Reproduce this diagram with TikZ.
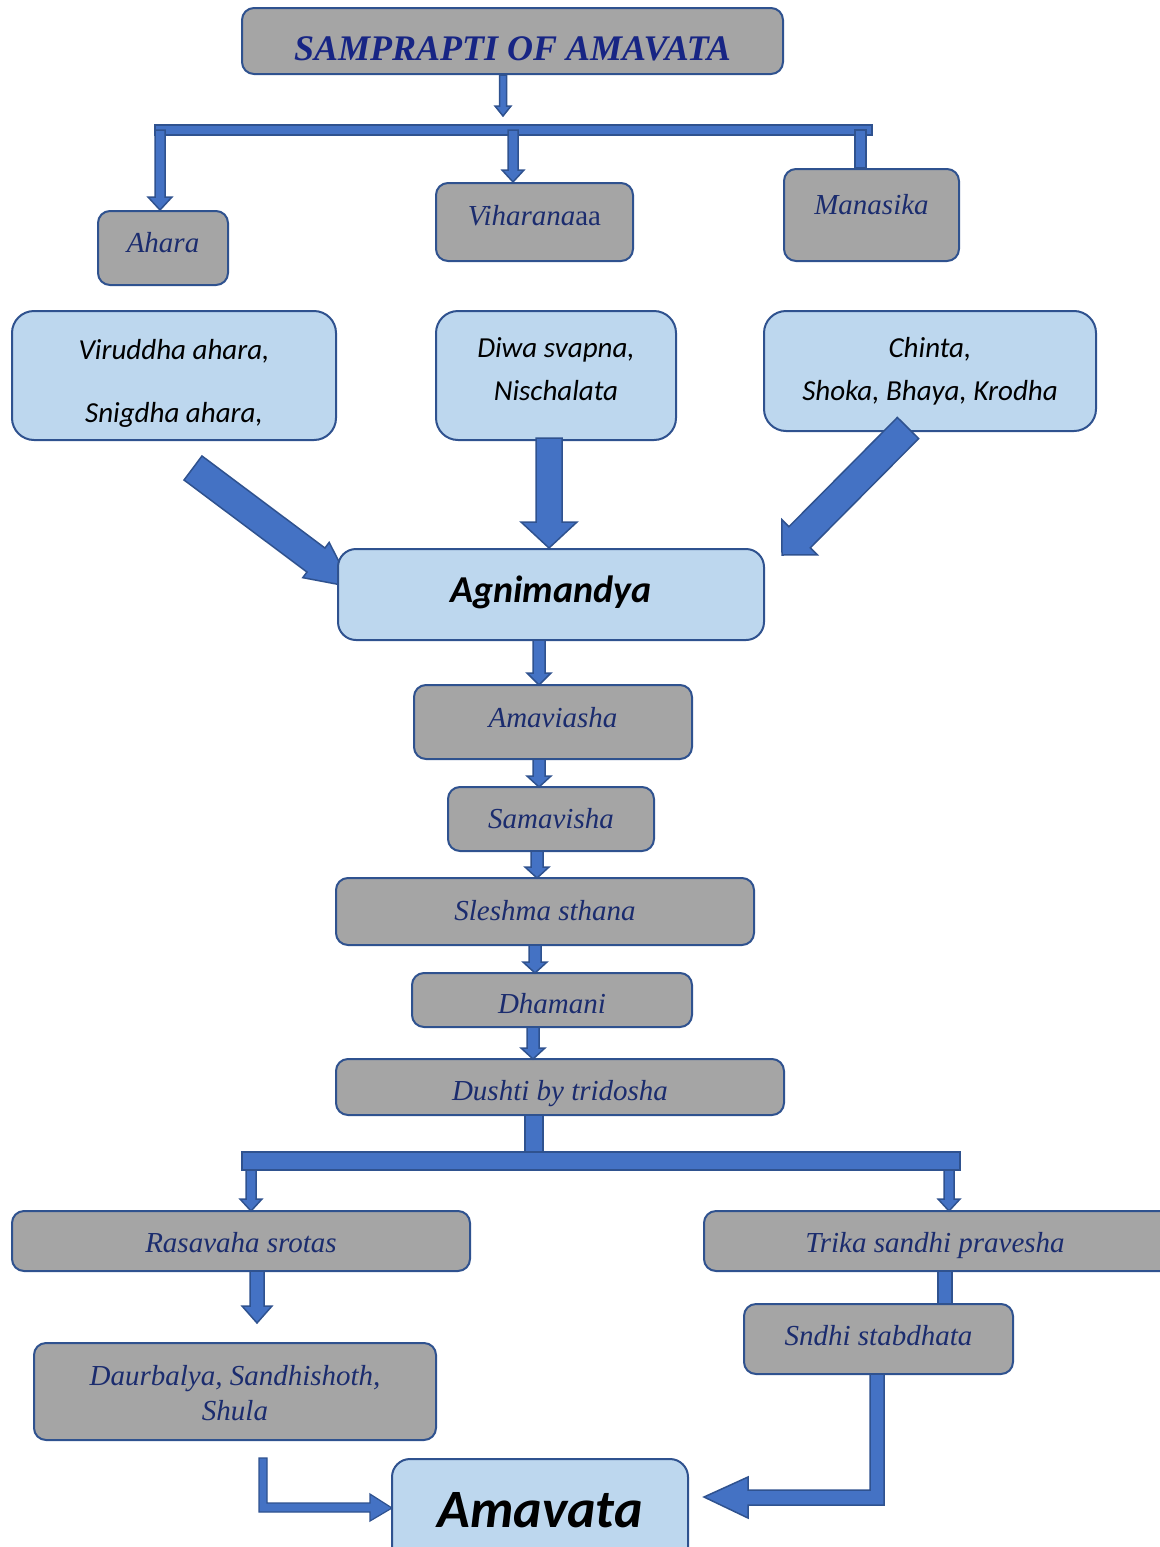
\documentclass[tikz,border=0pt]{standalone}
\usepackage{fontspec}
\setmainfont{Liberation Serif}
\newfontfamily\calib{Carlito}
\usetikzlibrary{calc}
\definecolor{greyf}{HTML}{A5A5A5}
\definecolor{bord}{HTML}{2F528F}
\definecolor{arrf}{HTML}{4472C4}
\definecolor{lightf}{HTML}{BDD7EE}
\definecolor{navy}{HTML}{1B2C6E}
\pgfdeclarelayer{bg}
\pgfsetlayers{bg,main}
\newcommand{\blkarrow}[5]{%
  \coordinate (ba) at #1; \coordinate (bb) at #2;
  \coordinate (bh) at ($(bb)!#5!(ba)$);
  \filldraw[arr] ($(ba)!#3!90:(bb)$) -- ($(bh)!#3!90:(bb)$) -- ($(bh)!#4!90:(bb)$) -- (bb)
    -- ($(bh)!#4!-90:(bb)$) -- ($(bh)!#3!-90:(bb)$) -- ($(ba)!#3!-90:(bb)$) -- cycle;}
\newcommand{\shtxt}[2]{\raisebox{#1}[\height][\depth]{#2}}
\tikzset{
  grey/.style={draw=bord, fill=greyf, line width=2pt, rounded corners=12pt, text=navy,
    font=\itshape\fontsize{29}{33}\selectfont, align=center, inner sep=0pt},
  light/.style={draw=bord, fill=lightf, line width=2pt, rounded corners=22pt, text=black,
    font=\calib\itshape\fontsize{29}{43}\selectfont, align=center, inner sep=0pt},
  arr/.style={fill=arrf, draw=bord, line width=1.5pt, line join=miter},
}
\begin{document}
\begin{tikzpicture}[x=1pt,y=-1pt]
\useasboundingbox (0,0) rectangle (1159,1547);
% nodes
\node[grey, minimum width=541pt, minimum height=66pt, text height=38pt, text depth=0pt,
  font=\bfseries\itshape\fontsize{36}{40}\selectfont, text=navy!85!blue] (title) at (512.5,41) {SAMPRAPTI OF AMAVATA};
\node[grey, minimum width=130pt, minimum height=74pt] (ahara) at (163,248) {\shtxt{5pt}{Ahara}};
\node[grey, minimum width=197pt, minimum height=78pt] (vihar) at (534.5,222) {\shtxt{6pt}{Viharana\textup{aa}}};
\node[grey, minimum width=175pt, minimum height=92pt, text depth=22pt] (manas) at (871.5,215) {Manasika};
\node[light, minimum width=324pt, minimum height=129pt] (l1) at (174,375.5)
  {\shtxt{-7pt}{\begin{tabular}{@{}c@{}}Viruddha ahara,\\[20pt]Snigdha ahara,\end{tabular}}};
\node[light, minimum width=240pt, minimum height=129pt] (l2) at (556,375.5)
  {\shtxt{5pt}{\begin{tabular}{@{}c@{}}Diwa svapna,\\Nischalata\end{tabular}}};
\node[light, minimum width=332pt, minimum height=120pt] (l3) at (930,371) {Chinta,\\Shoka, Bhaya, Krodha};
\node[light, minimum width=426pt, minimum height=91pt, rounded corners=18pt,
  font=\calib\bfseries\itshape\fontsize{38}{44}\selectfont] (agni) at (551,594.5) {\shtxt{2pt}{Agnimandya}};
\node[grey, minimum width=278pt, minimum height=74pt] (amav) at (553,722) {\shtxt{4pt}{Amaviasha}};
\node[grey, minimum width=206pt, minimum height=64pt] (sama) at (551,819) {Samavisha};
\node[grey, minimum width=418pt, minimum height=67pt] (slesh) at (545,911.5) {\shtxt{1pt}{Sleshma sthana}};
\node[grey, minimum width=280pt, minimum height=54pt] (dham) at (552,1000) {\shtxt{-4pt}{Dhamani}};
\node[grey, minimum width=448pt, minimum height=56pt] (dush) at (560,1087) {\shtxt{-7pt}{Dushti by tridosha}};
\node[grey, minimum width=458pt, minimum height=60pt] (rasa) at (241,1241) {\shtxt{-2pt}{Rasavaha srotas}};
\node[grey, minimum width=471pt, minimum height=60pt] (trika) at (939.5,1241) {\hspace*{-9pt}\shtxt{-5pt}{Trika sandhi pravesha}};
\node[grey, minimum width=269pt, minimum height=70pt] (sndhi) at (878.5,1339) {\shtxt{3pt}{Sndhi stabdhata}};
\node[grey, minimum width=402pt, minimum height=97pt, font=\itshape\fontsize{29}{35}\selectfont] (daur) at (235,1391.5)
  {\shtxt{-4pt}{\begin{tabular}{@{}c@{}}Daurbalya, Sandhishoth,\\Shula\end{tabular}}};
\node[light, minimum width=296pt, minimum height=120pt, rounded corners=18pt, text depth=18pt,
  font=\calib\bfseries\itshape\fontsize{54}{60}\selectfont] (amavata) at (540,1519) {Amavata};
% connectors in background
\begin{pgfonlayer}{bg}
  \coordinate (lfree) at (352,587);
  \blkarrow{(193,468)}{(lfree)}{15pt}{22pt}{45pt}
\end{pgfonlayer}
% title to bar
\coordinate (tbar) at (503,116);
\blkarrow{($(title.south)+(-9.5,0)$)}{(tbar)}{3.5pt}{8pt}{10pt}
\filldraw[arr] (155,125) rectangle (872,135);
\blkarrow{(160,130)}{(160,210)}{5pt}{12pt}{13pt}
\blkarrow{(513,130)}{(vihar.north -| 513,0)}{5pt}{11pt}{12pt}
\filldraw[arr] (855,130) rectangle (866,168);
% big arrows
\blkarrow{(549,438)}{(549,548)}{13pt}{28pt}{26pt}
\blkarrow{(908,428)}{(782,555)}{15pt}{25pt}{25pt}
% chain
\blkarrow{(539,640)}{(539,685)}{6pt}{12pt}{12pt}
\blkarrow{(539,759)}{(539,787)}{6pt}{12pt}{11pt}
\blkarrow{(537,851)}{(537,878)}{6pt}{12pt}{11pt}
\blkarrow{(535,945)}{(535,973)}{6pt}{12pt}{11pt}
\blkarrow{(533,1027)}{(533,1059)}{6pt}{12pt}{11pt}
% dushti to branches
\filldraw[arr] (525,1115) rectangle (543,1152);
\filldraw[arr] (242,1152) rectangle (960,1170);
\blkarrow{(251,1170)}{(251,1211)}{5pt}{11pt}{12pt}
\blkarrow{(949,1170)}{(949,1211)}{5pt}{11pt}{12pt}
% rasavaha down
\coordinate (rfree) at (257,1323);
\blkarrow{(257,1271)}{(rfree)}{7pt}{15pt}{17pt}
% trika to sndhi
\filldraw[arr] (938,1271) rectangle (952,1304);
% sndhi to amavata
\filldraw[arr] (870,1374) -- (884,1374) -- (884,1505) -- (748,1505) -- (748,1518) -- (704,1497)
  -- (748,1477) -- (748,1490) -- (870,1490) -- cycle;
% daurbalya to amavata
\filldraw[arr, line width=1.2pt] (259,1458) -- (267,1458) -- (267,1503) -- (370,1503) -- (370,1494)
  -- (392,1508) -- (370,1521) -- (370,1512) -- (259,1512) -- cycle;
\end{tikzpicture}
\end{document}
